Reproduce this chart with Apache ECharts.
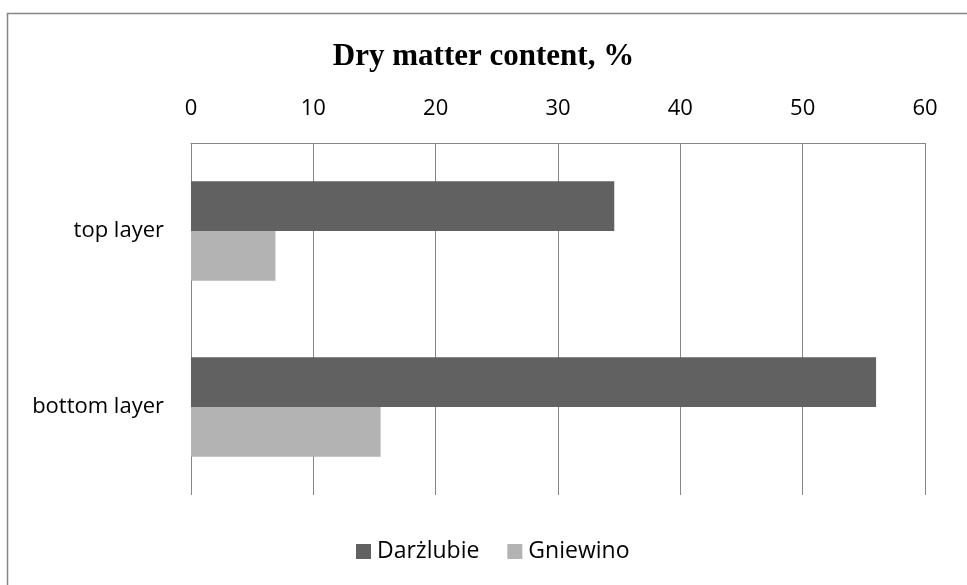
<!DOCTYPE html>
<html><head><meta charset="utf-8">
<script src="https://cdn.jsdelivr.net/npm/echarts@6/dist/echarts.min.js"></script>
<style>html,body{margin:0;padding:0;background:#fff}#c{width:967px;height:585px}</style>
</head><body><div id="c"></div>
<script>
const categories = ['top layer', 'bottom layer'];
const darzlubie = [34.6, 56.0];
const gniewino = [6.9, 15.5];
const seriesNames = ['Darżlubie', 'Gniewino'];
const titleText = 'Dry matter content, %';

const chart = echarts.init(document.getElementById('c'));
const labelFont = '"Open Sans", "Noto Sans", sans-serif';
chart.setOption({
  animation: false,
  backgroundColor: '#fff',
  graphic: [{
    type: 'rect', silent: true, z: -1,
    shape: { x: 7.5, y: 13.5, width: 1000, height: 1000 },
    style: { fill: 'none', stroke: '#868686', lineWidth: 1.5 }
  }],
  title: {
    text: titleText, left: 'center', top: 36,
    textStyle: { fontFamily: '"Liberation Serif", "Times New Roman", serif', fontWeight: 'bold', fontSize: 31, color: '#000' }
  },
  legend: {
    top: 535, left: 351, itemWidth: 15, itemHeight: 15, itemGap: 28,
    icon: 'rect',
    textStyle: { fontFamily: labelFont, fontSize: 23, color: '#000', padding: [0, 0, 0, 1] },
    data: seriesNames
  },
  grid: { left: 191, right: 42, top: 143, bottom: 90 },
  xAxis: {
    type: 'value', position: 'top', min: 0, max: 60, interval: 10,
    axisLine: { show: true, lineStyle: { color: '#868686' } },
    axisTick: { show: false },
    axisLabel: { fontFamily: labelFont, fontSize: 22, color: '#000', margin: 23 },
    splitLine: { show: true, lineStyle: { color: '#868686', width: 1 } }
  },
  yAxis: {
    type: 'category', data: categories, inverse: true,
    axisLine: { show: false }, axisTick: { show: false },
    axisLabel: { fontFamily: labelFont, fontSize: 22, color: '#000', margin: 27 }
  },
  series: [
    { name: seriesNames[0], type: 'bar', data: darzlubie, barGap: '0%', barCategoryGap: '43.5%',
      itemStyle: { color: '#616161' } },
    { name: seriesNames[1], type: 'bar', data: gniewino,
      itemStyle: { color: '#b3b3b3' } }
  ]
});
</script></body></html>
